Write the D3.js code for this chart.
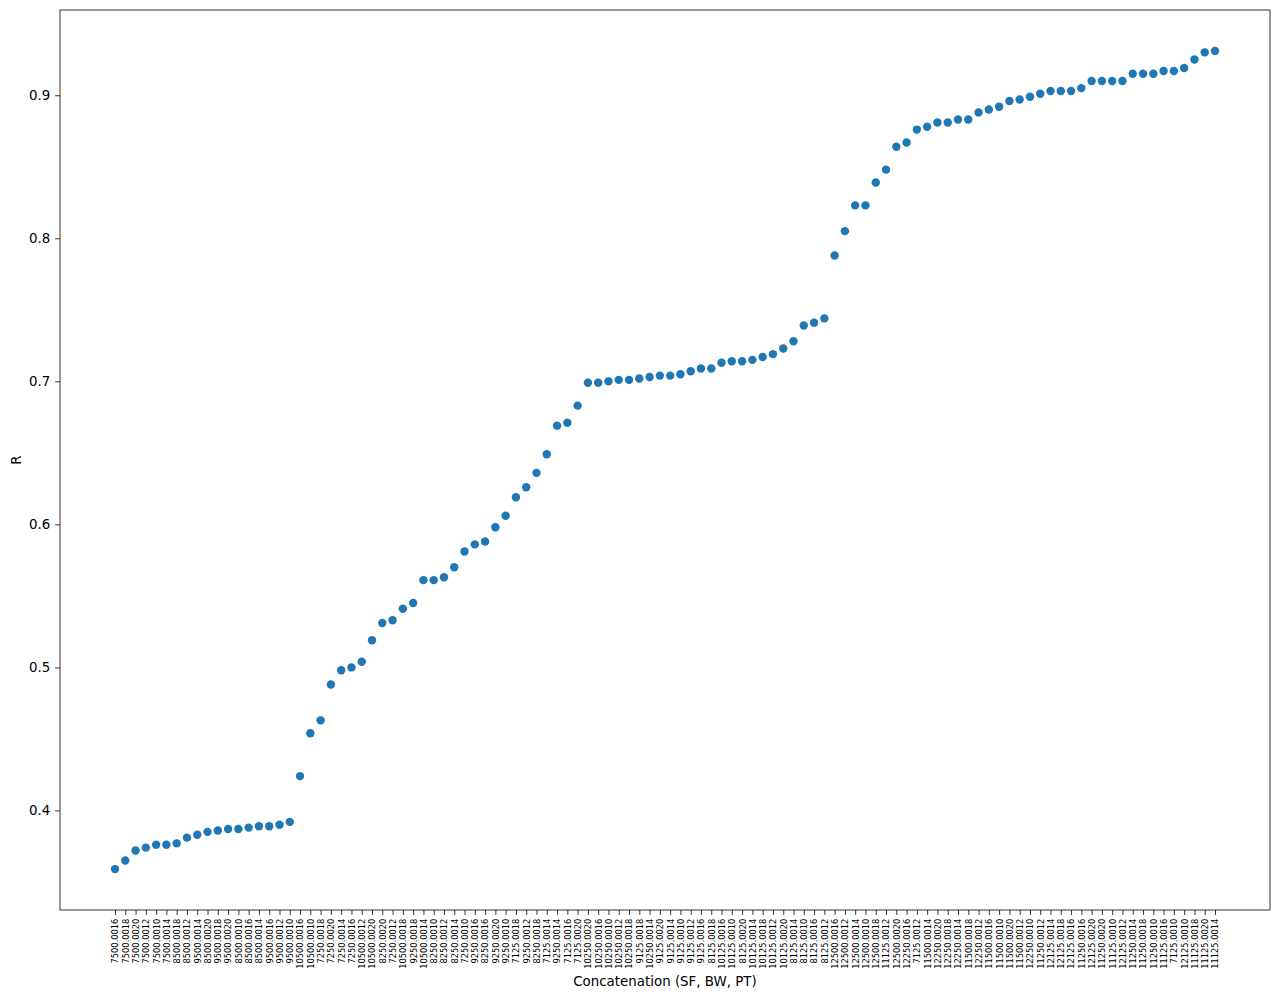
<!DOCTYPE html>
<html>
<head>
<meta charset="utf-8">
<script src="https://cdn.jsdelivr.net/npm/d3@7"></script>
<style>
html,body{margin:0;padding:0;background:#fff;}
svg{display:block;font-family:"DejaVu Sans",sans-serif;}
</style>
</head>
<body>
<svg id="chart" width="1280" height="998"></svg>
<script>
const categories = [
"7500.0016","7500.0018","7500.0020","7500.0012","7500.0010","7500.0014","8500.0018","8500.0012","9500.0014","8500.0020",
"9500.0018","9500.0020","8500.0010","8500.0016","8500.0014","9500.0016","9500.0012","9500.0010","10500.0016","10500.0010",
"7250.0018","7250.0020","7250.0014","7250.0016","10500.0012","10500.0020","8250.0020","7250.0012","10500.0018","9250.0018",
"10500.0014","8250.0010","8250.0012","8250.0014","7250.0010","9250.0016","8250.0016","9250.0020","9250.0010","7125.0018",
"9250.0012","8250.0018","7125.0014","9250.0014","7125.0016","7125.0020","10250.0020","10250.0016","10250.0010","10250.0012",
"10250.0018","9125.0018","10250.0014","9125.0020","9125.0014","9125.0010","9125.0012","9125.0016","8125.0018","10125.0016",
"10125.0010","8125.0020","10125.0014","10125.0018","10125.0012","10125.0020","8125.0014","8125.0010","8125.0016","8125.0012",
"12500.0016","12500.0012","12500.0014","12500.0010","12500.0018","11125.0012","12500.0020","12250.0016","7125.0012","11500.0014",
"12250.0020","12250.0018","12250.0014","11500.0018","12250.0012","11500.0016","11500.0010","11500.0020","11500.0012","12250.0010",
"11250.0012","12125.0014","12125.0018","12125.0016","11250.0016","12125.0020","11250.0020","11125.0010","12125.0012","11250.0014",
"11250.0018","11250.0010","11125.0016","7125.0010","12125.0010","11125.0018","11125.0020","11125.0014"
];
const rValues = [
0.359,0.365,0.372,0.374,0.376,0.376,0.377,0.381,0.383,0.385,
0.386,0.387,0.387,0.388,0.389,0.389,0.390,0.392,0.424,0.454,
0.463,0.488,0.498,0.500,0.504,0.519,0.531,0.533,0.541,0.545,
0.561,0.561,0.563,0.570,0.581,0.586,0.588,0.598,0.606,0.619,
0.626,0.636,0.649,0.669,0.671,0.683,0.699,0.699,0.700,0.701,
0.701,0.702,0.703,0.704,0.704,0.705,0.707,0.709,0.709,0.713,
0.714,0.714,0.715,0.717,0.719,0.723,0.728,0.739,0.741,0.744,
0.788,0.805,0.823,0.823,0.839,0.848,0.864,0.867,0.876,0.878,
0.881,0.881,0.883,0.883,0.888,0.890,0.892,0.896,0.897,0.899,
0.901,0.903,0.903,0.903,0.905,0.910,0.910,0.910,0.910,0.915,
0.915,0.915,0.917,0.917,0.919,0.925,0.930,0.931
];
const yTicks = [0.4,0.5,0.6,0.7,0.8,0.9];
const xLabel = "Concatenation (SF, BW, PT)";
const yLabel = "R";

const svg = d3.select("#chart");
const L = 60, R = 1270, T = 10, B = 910;
const n = categories.length;
const xm = (n - 1) * 0.05;
const x = d3.scaleLinear().domain([-xm, n - 1 + xm]).range([L, R]);
const yMin = d3.min(rValues), yMax = d3.max(rValues), yr = yMax - yMin;
const y = d3.scaleLinear().domain([yMin - 0.05 * yr, yMax + 0.05 * yr]).range([B, T]);

// points
svg.append("g").selectAll("circle").data(rValues).join("circle")
  .attr("cx", (d, i) => x(i)).attr("cy", d => y(d)).attr("r", 4.2)
  .attr("fill", "#1f77b4");

// x axis
const xAxis = d3.axisBottom(x).tickValues(d3.range(n)).tickFormat(i => categories[i]).tickSize(4.9).tickPadding(3.5);
const gx = svg.append("g").attr("transform", `translate(0,${B})`).call(xAxis);
gx.select(".domain").remove();
gx.selectAll(".tick line").attr("stroke", "#000").attr("stroke-width", 0.8);
gx.selectAll(".tick text")
  .attr("font-size", 8.3).attr("fill", "#000")
  .attr("font-family", "DejaVu Sans")
  .attr("transform", "rotate(-90)")
  .attr("text-anchor", "end")
  .attr("x", -8.6).attr("y", 0).attr("dy", "0.35em");

// y axis
const yAxis = d3.axisLeft(y).tickValues(yTicks).tickFormat(d3.format(".1f")).tickSize(4.9).tickPadding(4.9);
const gy = svg.append("g").attr("transform", `translate(${L},0)`).call(yAxis);
gy.select(".domain").remove();
gy.selectAll(".tick line").attr("stroke", "#000").attr("stroke-width", 0.8);
gy.selectAll(".tick text").attr("font-size", 13.4).attr("fill", "#000").attr("font-family", "DejaVu Sans");

// frame
svg.append("rect").attr("x", L).attr("y", T).attr("width", R - L).attr("height", B - T)
  .attr("fill", "none").attr("stroke", "#000").attr("stroke-width", 0.8);

// labels
svg.append("text").attr("x", (L + R) / 2).attr("y", 986).attr("text-anchor", "middle")
  .attr("font-size", 13.4).attr("fill", "#000").text(xLabel);
svg.append("text").attr("transform", `translate(21,${(T + B) / 2}) rotate(-90)`).attr("text-anchor", "middle")
  .attr("font-size", 13.4).attr("fill", "#000").text(yLabel);
</script>
</body>
</html>
